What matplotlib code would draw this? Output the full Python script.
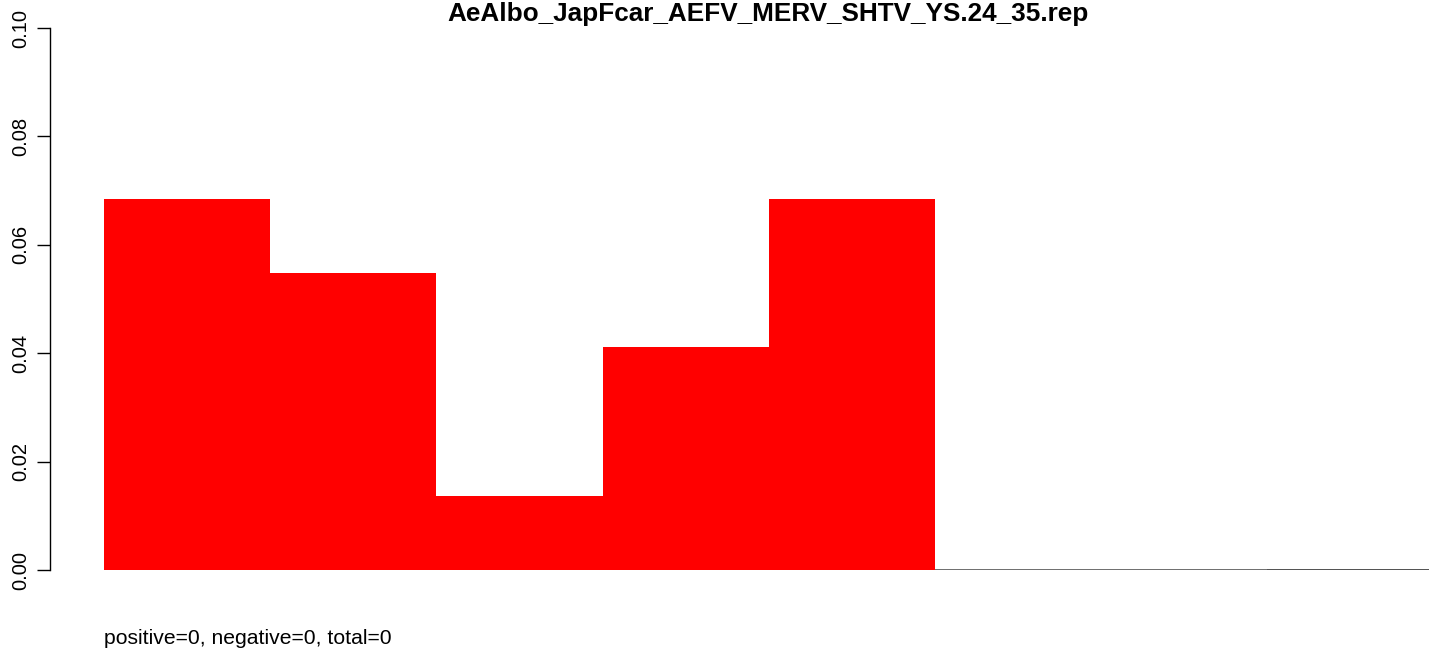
import matplotlib.pyplot as plt

plt.rcParams['font.family'] = ['Liberation Sans', 'DejaVu Sans']

# five filled bins plus three empty ones (counts / 73)
values = [5 / 73, 4 / 73, 1 / 73, 3 / 73, 5 / 73, 0, 0, 0]
title = "AeAlbo_JapFcar_AEFV_MERV_SHTV_YS.24_35.rep"
footer = "positive=0, negative=0, total=0"
yticks = [0.00, 0.02, 0.04, 0.06, 0.08, 0.10]

W, H = 1429, 651
fig = plt.figure(figsize=(W / 100, H / 100), dpi=100)
ax = fig.add_axes([50 / W, 81 / H, (W - 50) / W, 542 / H])

pos = list(range(len(values)))
filled = [v for v in values if v > 0]
ax.bar(pos[:len(filled)], filled, width=1.0, align='edge', color='red',
       linewidth=0)
# empty bins show only as a flat border
ax.bar(pos[len(filled):], [0] * (len(values) - len(filled)), width=1.0,
       align='edge', color='none', edgecolor='#555555', linewidth=1.2)

bw = 166.2
ax.set_xlim(-54 / bw, (W - 104) / bw)
ax.set_ylim(0, 0.1)
for s in ['top', 'right', 'bottom']:
    ax.spines[s].set_visible(False)
ax.spines['left'].set_linewidth(1.0)
ax.set_xticks([])
ax.set_yticks(yticks)
ax.set_yticklabels(["%.2f" % t for t in yticks], rotation=90, va='center',
                   fontsize=14.5)
ax.tick_params(axis='y', length=9.4, width=1.0, pad=5)

fig.text(768 / W, 1 - 21 / H, title, ha='center', va='baseline',
         fontsize=18.8, fontweight='bold')
fig.text(104 / W, 1 - 644 / H, footer, ha='left', va='baseline',
         fontsize=15.2)

fig.savefig("out.png", dpi=100)
